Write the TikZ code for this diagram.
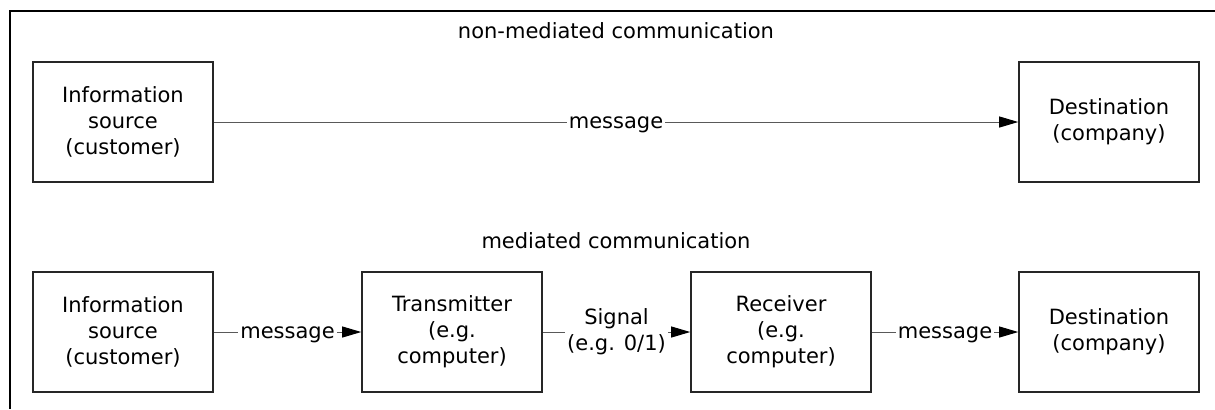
\documentclass[tikz,border=0pt]{standalone}
\usepackage{fontspec}
\setmainfont{DejaVu Sans}
\usetikzlibrary{arrows.meta}

\begin{document}
\begin{tikzpicture}[x=0.5pt,y=-0.5pt,font=\fontsize{10.5}{13}\selectfont]
\tikzset{
% boxes and connectors of the model
block/.style={draw=black!85,line width=0.8pt,minimum width=90pt,minimum height=60pt,align=center,inner sep=0pt},
conn/.style={draw=black!65,line width=0.5pt,-{Triangle[length=9.5pt,width=5.5pt,color=black]}},
lbl/.style={fill=white,inner sep=1pt,align=center,yshift=-1.5pt}
}
\useasboundingbox (0,0) rectangle (1215,409);

% frame
\coordinate (fr) at (1215,11);
\coordinate (fc) at (10,11);
\coordinate (fb) at (10,409);
\draw[line width=1pt] (fr) -- (fc) -- (fb);

% non-mediated communication
\node(t1) at (616,31) {non-mediated communication};
\node(src1)[block] at (123,122) {Information\\ source\\ (customer)};
\node(dst1)[block] at (1109,122) {Destination\\ (company)};
\draw[conn] (src1) -- node[lbl]{message} (dst1);

% mediated communication
\node(t2) at (616,241) {mediated communication};
\node(src2)[block] at (123,332) {Information\\ source\\ (customer)};
\node(tx)[block] at (452,332) {Transmitter\\ (e.g.\\ computer)};
\node(rx)[block] at (781,332) {Receiver\\ (e.g.\\ computer)};
\node(dst2)[block] at (1109,332) {Destination\\ (company)};
\draw[conn] (src2) -- node[lbl]{message} (tx);
\draw[conn] (tx) -- node[lbl,yshift=1.5pt]{Signal\\ (e.g. 0/1)} (rx);
\draw[conn] (rx) -- node[lbl]{message} (dst2);
\end{tikzpicture}
\end{document}
